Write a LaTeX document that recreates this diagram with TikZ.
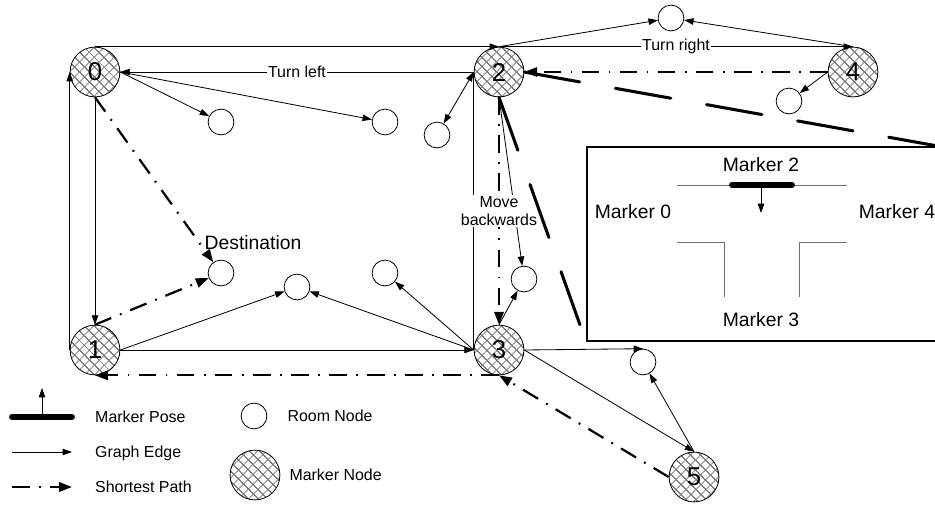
\documentclass[tikz,border=0pt]{standalone}
\usepackage{fontspec}
\setmainfont{Liberation Sans}
\usepackage{xcolor}
\usetikzlibrary{positioning,arrows.meta,patterns.meta}

\definecolor{hatchgray}{RGB}{125,125,125}
\definecolor{wallgray}{RGB}{110,110,110}
\newcommand{\lblfont}{\fontsize{13.6}{15.3}\selectfont}
\newcommand{\insetfont}{\fontsize{16.5}{18}\selectfont}
\newcommand{\numfont}{\fontsize{22}{24}\selectfont}

\tikzdeclarepattern{
  name=markerhatch,
  type=uncolored,
  bounding box={(0pt,0pt) and (6pt,6pt)},
  tile size={(6pt,6pt)},
  tile transformation={rotate=45},
  code={
    \draw[line width=0.7pt] (0pt,3pt) -- (6pt,3pt) (3pt,0pt) -- (3pt,6pt);
  }
}

\begin{document}
\begin{tikzpicture}[x=0.03cm,y=-0.03cm,>={Triangle[length=8pt,width=5.5pt]},
  marker/.style={circle,draw,line width=0.7pt,minimum size=42.5pt,inner sep=0pt,
    preaction={fill=white},pattern=markerhatch,pattern color=hatchgray,font=\numfont},
  room/.style={circle,draw,line width=0.7pt,minimum size=22pt,inner sep=0pt,fill=white},
  graphedge/.style={line width=0.7pt,->},
  shortpath/.style={line width=1.9pt,dash pattern=on 15pt off 8pt on 1.5pt off 8pt,
    -{Triangle[length=11pt,width=8pt]}},
  zoomline/.style={line width=2.6pt,line cap=round,dash pattern=on 48pt off 31pt},
  lbl/.style={font=\lblfont,fill=white,inner sep=1pt},
  txt/.style={font=\lblfont,anchor=west,inner sep=0pt,text height=9.7pt,text depth=0pt},
  bigtxt/.style={font=\insetfont,inner sep=0pt,text height=11.8pt,text depth=0pt},
  wall/.style={wallgray,line width=0.8pt},
  pose/.style={line width=5pt,line cap=round}]
\useasboundingbox (0,0) rectangle (935,504);

% marker nodes
\node[marker] (m0) at (95,72) {0};
\node[marker] (m1) at (95,350) {1};
\node[marker] (m2) at (499,72) {2};
\node[marker] (m3) at (499,350) {3};
\node[marker] (m4) at (853,72) {4};
\node[marker] (m5) at (694,477) {5};

% room nodes
\foreach \name/\xpos/\ypos in {rA/671/18,rB/789/101,rC/221/122,rD/385/122,rE/437/135,
  rF/221/273,rG/297/287,rH/385/273,rI/524/279,rJ/643/362}
  \node[room] (\name) at (\xpos,\ypos) {};

% graph edges
\foreach \from/\to in {m0.north/m2.north,m2.north/rA,m4.north/rA,m4.west/rB,m0.east/rC,
  m0.east/rD,m1.west/m0.west,m0.south/m1.north,m1.east/m3.west,m1.east/rG,m3.west/rG,
  m3.west/rH,m2.south/rI,m3.north/rI,m3.east/rJ.north,m3.east/m5.north,m5.north/rJ}
  \draw[graphedge] (\from) -- (\to);
\draw[graphedge] (m2.north) -- node[lbl] {Turn right} (m4.north);
\draw[graphedge] (m2.west) -- node[lbl] {Turn left} (m0.east);
\draw[graphedge,<->] (m2.west) -- (rE);
\draw[line width=0.7pt] (m3.west) -- (m2.west);

% shortest path
\draw[shortpath] (m4.west) -- (m2.east);
\draw[shortpath] (m2.south) -- node[lbl,align=center] {Move\\backwards} (m3.north);
\draw[shortpath] (m3.south) -- (m1.south);
\draw[shortpath] (m5.west) -- (m3.south);
\draw[shortpath] (m1.north) -- (rF);
\draw[shortpath] (m0.south) -- (rF);
\node[bigtxt] (dest) at (253,243) {Destination};

% inset
\node[draw,line width=1.6pt,fill=white,minimum width=10.5cm,minimum height=5.82cm,
  inner sep=0pt] (inset) at (762,244) {};
\draw[zoomline] (m2.east) -- (inset.north east);
\draw[zoomline] (m2.south) -- (inset.south west);
\node[bigtxt] (lab2) at (761,165) {Marker 2};
\node[bigtxt] (lab0) at (633,212) {Marker 0};
\node[bigtxt] (lab4) at (897,212) {Marker 4};
\node[bigtxt] (lab3) at (761,320) {Marker 3};
\draw[wall] (677,185) -- (847,185);
\draw[wall] (677,242) -- (724,242) -- (724,297);
\draw[wall] (847,242) -- (799,242) -- (799,297);
\draw[pose] (732,185) -- (792,185);
\draw[graphedge] (761,185) -- (761,213);

% legend
\coordinate (poseL) at (12,417);
\coordinate (poseR) at (72,417);
\coordinate (poseM) at (42,417);
\coordinate (poseTip) at (42,388);
\draw[pose] (poseL) -- (poseR);
\draw[graphedge] (poseM) -- (poseTip);
\node[txt] (poseTxt) at (95,417) {Marker Pose};
\coordinate (edgeL) at (12,452);
\coordinate (edgeR) at (72,452);
\draw[graphedge] (edgeL) -- (edgeR);
\node[txt] (edgeTxt) at (95,452) {Graph Edge};
\coordinate (pathL) at (12,487);
\coordinate (pathR) at (72,487);
\draw[shortpath] (pathL) -- (pathR);
\node[txt] (pathTxt) at (95,487) {Shortest Path};
\node[room] (legRoom) at (254,416) {};
\node[txt,right=0.6cm of legRoom] (roomTxt) {Room Node};
\node[marker] (legMarker) at (255,475) {};
\node[txt,right=0.27cm of legMarker] (markerTxt) {Marker Node};
\end{tikzpicture}
\end{document}
